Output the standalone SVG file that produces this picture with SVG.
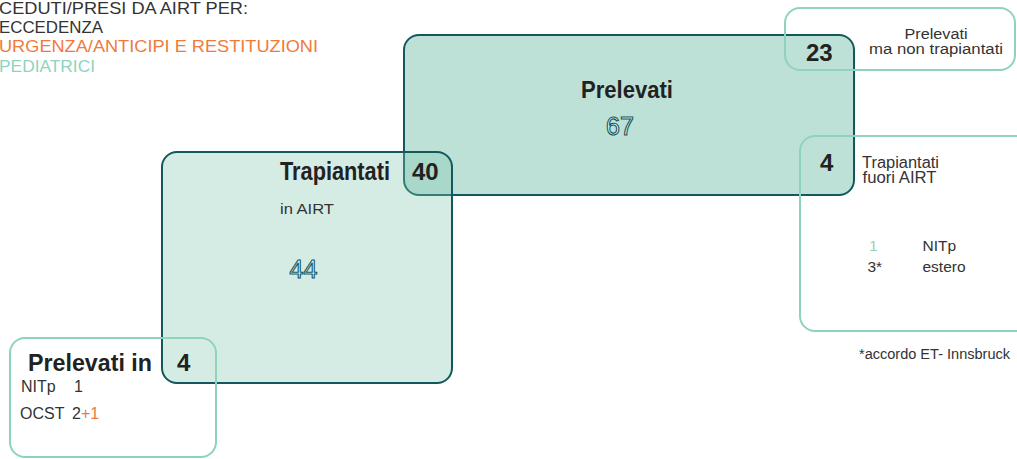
<svg xmlns="http://www.w3.org/2000/svg" width="1017" height="459" viewBox="0 0 1017 459">
<style>
text{font-family:"Liberation Sans",Arial,sans-serif;}
.dark{fill:#bde1d7;stroke:#13585d;stroke-width:2;}
.mid{fill:#7fc4ae;fill-opacity:0.33;stroke:#13585d;stroke-width:2;}
.light{fill:none;stroke:#8fd3bd;stroke-width:2;}
.hb{font-weight:bold;fill:#222;}
.num{font-weight:bold;fill:#222;font-size:24px;}
.reg{fill:#333;}
.outl{fill:#f4fbf8;stroke:#13585d;stroke-width:1.1;font-size:25px;}
.org{fill:#f07a3a;}
.grn{fill:#8fd3bd;}
</style>
<rect width="1017" height="459" fill="#ffffff"/>
<g id="legend" font-size="17">
<text x="-1" y="13.5" class="reg" textLength="249" lengthAdjust="spacingAndGlyphs">CEDUTI/PRESI DA AIRT PER:</text>
<text x="-1" y="33" class="reg" textLength="104" lengthAdjust="spacingAndGlyphs">ECCEDENZA</text>
<text x="-1" y="52" class="org" textLength="319" lengthAdjust="spacingAndGlyphs">URGENZA/ANTICIPI E RESTITUZIONI</text>
<text x="-1" y="71.5" class="grn" textLength="96" lengthAdjust="spacingAndGlyphs">PEDIATRICI</text>
</g>
<g id="prelevati">
<rect class="dark" x="404" y="35" width="450" height="160" rx="15"/>
<text x="581" y="98" class="hb" font-size="23" textLength="92" lengthAdjust="spacingAndGlyphs">Prelevati</text>
<text x="620" y="135" class="outl" text-anchor="middle">67</text>
</g>
<g id="trapiantati">
<rect class="mid" x="162" y="152" width="290" height="231" rx="15"/>
<text x="280" y="180" class="hb" font-size="25" textLength="110" lengthAdjust="spacingAndGlyphs">Trapiantati</text>
<text x="412" y="180" class="num" font-size="25">40</text>
<text x="280" y="214" class="reg" font-size="15" textLength="54" lengthAdjust="spacingAndGlyphs">in AIRT</text>
<text x="303.5" y="278" class="outl" text-anchor="middle">44</text>
</g>
<g id="prelevati-in">
<rect class="light" x="10" y="338" width="206" height="119" rx="15"/>
<text x="28" y="371" class="hb" font-size="24.5" textLength="124" lengthAdjust="spacingAndGlyphs">Prelevati in</text>
<text x="177" y="371" class="num">4</text>
<text x="21" y="392" class="reg" font-size="16">NITp</text>
<text x="74" y="392" class="reg" font-size="16">1</text>
<text x="20" y="419" class="reg" font-size="16">OCST</text>
<text x="72" y="419" class="reg" font-size="16">2<tspan class="org">+1</tspan></text>
</g>
<g id="non-trapiantati">
<rect class="light" x="785" y="8" width="230" height="62" rx="15"/>
<text x="806" y="61" class="num">23</text>
<text x="936" y="39" class="reg" font-size="15.5" text-anchor="middle" textLength="63" lengthAdjust="spacingAndGlyphs">Prelevati</text>
<text x="936" y="53.5" class="reg" font-size="15.5" text-anchor="middle" textLength="134" lengthAdjust="spacingAndGlyphs">ma non trapiantati</text>
</g>
<g id="fuori-airt">
<rect class="light" x="800" y="136" width="240" height="195" rx="15"/>
<text x="820" y="171" class="num">4</text>
<text x="862" y="167.5" class="reg" font-size="16" textLength="77" lengthAdjust="spacingAndGlyphs">Trapiantati</text>
<text x="862.5" y="183" class="reg" font-size="16" textLength="74" lengthAdjust="spacingAndGlyphs">fuori AIRT</text>
<text x="869" y="251" class="grn" font-size="15.5">1</text>
<text x="922.5" y="251" class="reg" font-size="15.5">NITp</text>
<text x="867.5" y="272" class="reg" font-size="15.5">3*</text>
<text x="922.5" y="272" class="reg" font-size="15.5">estero</text>
<text x="859" y="359" class="reg" font-size="14" textLength="151" lengthAdjust="spacingAndGlyphs">*accordo ET- Innsbruck</text>
</g>
<g id="connectors"></g>
</svg>
